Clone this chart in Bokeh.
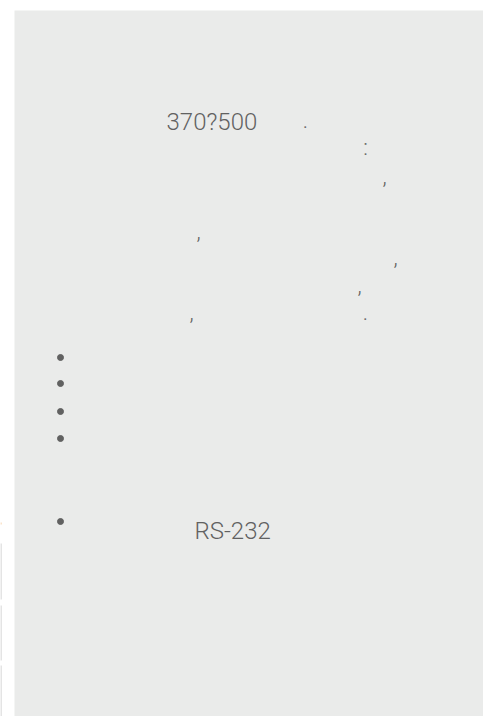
from bokeh.plotting import figure
from bokeh.models import Range1d
from bokeh.core.properties import value
from bokeh.embed import file_html
from bokeh.resources import INLINE

# Page coordinates (pixels) of the reference screenshot
page_w, page_h = 483, 716

# Text fragments that rendered in the reference (CJK glyphs were missing)
big_texts = ["370?500", "RS-232"]
big_x = [166, 194]
big_y = [121, 530]

punct = [".", ":", ",", ",", ",", ",", ",", "."]
punct_x = [305, 365, 384, 198, 395, 359, 191, 365]
punct_y = [119, 147, 175, 230, 256, 284, 311, 311]

bullet_x = [60, 60, 60, 60, 60]
bullet_y = [357, 383, 411, 438, 521]

# faint side stripes at the left page edge
stripe_top = [543, 605, 665]
stripe_bottom = [599, 660, 716]

p = figure(width=page_w, height=page_h, output_backend="svg",
           toolbar_location=None, x_range=Range1d(0, page_w),
           y_range=Range1d(page_h, 0), min_border=0)
p.axis.visible = False
p.grid.visible = False
p.outline_line_color = None
p.background_fill_color = "white"
p.border_fill_color = "white"

p.quad(left=[14], right=[page_w], top=[10], bottom=[page_h],
       fill_color="#EAEBEA", line_color=None)

p.quad(left=[0] * 3, right=[1] * 3, top=stripe_top, bottom=stripe_bottom,
       fill_color="#c9c9c9", line_color=None)
p.quad(left=[0], right=[1], top=[522], bottom=[524],
       fill_color="#f5c99a", line_color=None)

p.text(x=big_x, y=big_y, text=big_texts, text_font=value("Roboto Light"),
       text_font_size="24px", text_color="#616161",
       text_baseline="alphabetic", text_align="left")

p.text(x=punct_x, y=punct_y, text=punct, text_font=value("Roboto Light"),
       text_font_size="22px", text_color="#616161",
       text_baseline="alphabetic", text_align="center")

p.scatter(x=bullet_x, y=bullet_y, size=6, color="#616161", marker="circle")

open("out.html", "w").write(file_html(p, INLINE))
